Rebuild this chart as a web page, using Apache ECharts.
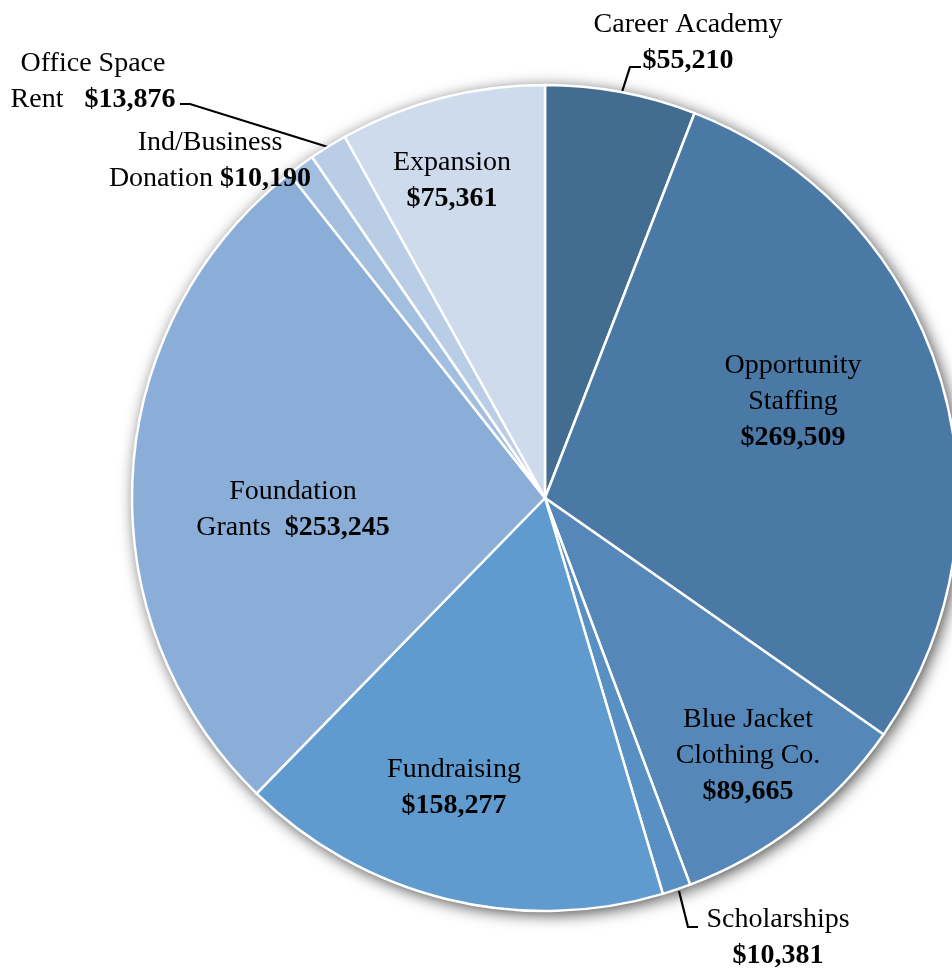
<!DOCTYPE html>
<html>
<head>
<meta charset="utf-8">
<script src="https://cdn.jsdelivr.net/npm/echarts@6/dist/echarts.min.js"></script>
<style>
html,body{margin:0;padding:0;background:#fff;}
#chart{width:952px;height:969px;}
</style>
</head>
<body>
<div id="chart"></div>
<script>
// ---- data ----
const categories = ['Career Academy','Opportunity Staffing','Blue Jacket Clothing Co.','Scholarships','Fundraising','Foundation Grants','Ind/Business Donation','Office Space Rent','Expansion'];
const values = [55210, 269509, 89665, 10381, 158277, 253245, 10190, 13876, 75361];
// label line breaks: name lines, and whether the value sits on the last name line
const nameLines = [['Career Academy'],['Opportunity','Staffing'],['Blue Jacket','Clothing Co.'],['Scholarships'],['Fundraising'],['Foundation','Grants  '],['Ind/Business','Donation '],['Office Space','Rent   '],['Expansion']];
const valueInline = [false,false,false,false,false,true,true,true,false];

// ---- styles / layout ----
const colors = ['#426c90','#4a79a5','#5587b8','#5990c3','#5f9bcf','#8aaed7','#a3bfdf','#bacde6','#cddbec'];
const labelPos = [[688,43],[793,402],[748,756],[778,938],[454,788],[293,510],[210,161],[93,82],[452,181]];
const leader = {
  0: [[622,92],[630,67],[641,67]],
  3: [[679,891],[688,927],[698,927]],
  7: [[328,147],[190,104],[180,104]]
};

function fmt(v){ return '$' + v.toLocaleString('en-US'); }
function labelText(i){
  const lines = nameLines[i].map(s => '{n|' + s + '}');
  const v = '{v|' + fmt(values[i]) + '}';
  if (valueInline[i]) { lines[lines.length-1] += v; } else { lines.push(v); }
  return lines.join('\n');
}

const font = "'Liberation Serif', 'Times New Roman', serif";
const data = categories.map((c,i) => ({
  name: c, value: values[i],
  itemStyle: {color: colors[i]},
  label: {position: leader[i] ? 'outside' : 'inside'},
  labelLine: {show: !!leader[i]}
}));

const chart = echarts.init(document.getElementById('chart'), null, {renderer:'canvas'});
chart.setOption({
  backgroundColor: '#fff',
  animation: false,
  series: [
    {
      type: 'pie', silent: true, z: 1,
      center: [545, 498], radius: 413, startAngle: 90, clockwise: true,
      label: {show:false}, labelLine:{show:false},
      itemStyle: {color:'#bbb', shadowBlur: 16, shadowColor:'rgba(0,0,0,0.75)', shadowOffsetX: 3, shadowOffsetY: 3},
      data: values.map(v => ({value: v}))
    },
    {
      type: 'pie', z: 2,
      center: [545, 498], radius: 413, startAngle: 90, clockwise: true,
      itemStyle: {borderColor:'#fff', borderWidth: 2.5},
      label: {
        show: true,
        formatter: p => labelText(p.dataIndex),
        align: 'center',
        rich: {
          n: {fontFamily: font, fontSize: 28, color:'#000', lineHeight: 36},
          v: {fontFamily: font, fontSize: 28, color:'#000', lineHeight: 36, fontWeight:'bold'}
        }
      },
      labelLine: {lineStyle: {color:'#000', width: 2.2}},
      labelLayout: p => {
        const i = p.dataIndex;
        const o = {x: labelPos[i][0], y: labelPos[i][1], align:'center', verticalAlign:'middle'};
        if (leader[i]) o.labelLinePoints = leader[i];
        return o;
      },
      data: data
    }
  ]
});
</script>
</body>
</html>
